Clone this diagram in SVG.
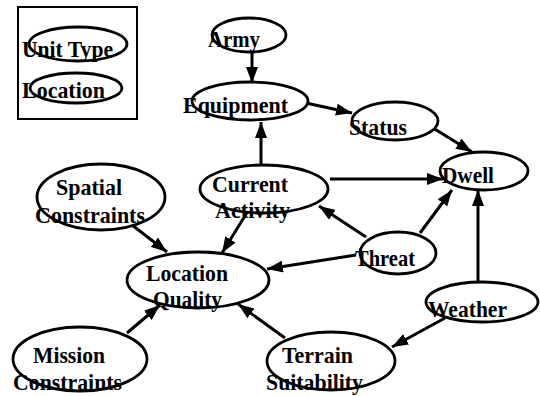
<svg xmlns="http://www.w3.org/2000/svg" width="540" height="396" viewBox="0 0 540 396">
<style>
.n{fill:#fff;stroke:#000;stroke-width:2.8}
.t{font-family:"Liberation Serif","Times New Roman",serif;font-weight:bold;font-size:24px;fill:#000}
.c{stroke:#000;stroke-width:3;fill:none;marker-end:url(#ah)}
</style>
<defs>
<marker id="ah" markerUnits="userSpaceOnUse" markerWidth="16" markerHeight="12" viewBox="0 0 16 12" refX="16" refY="6" orient="auto">
<path d="M0,0 L16,6 L0,12 z" fill="#000"/>
</marker>
</defs>
<rect width="540" height="396" fill="#fff"/>
<g id="legend">
<rect x="18" y="7" width="119" height="112" fill="#fff" stroke="#000" stroke-width="2"/>
<ellipse class="n" cx="78" cy="44" rx="49" ry="17"/>
<text class="t" x="22" y="57" textLength="91" lengthAdjust="spacingAndGlyphs">Unit Type</text>
<ellipse class="n" cx="76" cy="88" rx="46" ry="15"/>
<text class="t" x="22" y="98" textLength="83" lengthAdjust="spacingAndGlyphs">Location</text>
</g>
<g id="connectors">
<line class="c" x1="252" y1="52" x2="252" y2="83"/>
<line class="c" x1="306" y1="103" x2="352" y2="113"/>
<line class="c" x1="261" y1="165" x2="261" y2="122"/>
<line class="c" x1="433" y1="128" x2="472" y2="152"/>
<line class="c" x1="330" y1="179" x2="443" y2="179"/>
<line class="c" x1="366" y1="237" x2="319" y2="206"/>
<line class="c" x1="420" y1="233" x2="452" y2="190"/>
<line class="c" x1="478" y1="281" x2="478" y2="190"/>
<line class="c" x1="356" y1="255" x2="267" y2="269"/>
<line class="c" x1="445" y1="318" x2="392" y2="347"/>
<line class="c" x1="285" y1="338" x2="238" y2="304"/>
<line class="c" x1="132" y1="225" x2="167" y2="252"/>
<line class="c" x1="248" y1="211" x2="222" y2="253"/>
<line class="c" x1="127" y1="333" x2="160" y2="305"/>
</g>
<g id="army"><ellipse class="n" cx="249" cy="35" rx="37" ry="17"/><text class="t" x="208" y="47" textLength="52" lengthAdjust="spacingAndGlyphs">Army</text></g>
<g id="equipment"><ellipse class="n" cx="250" cy="101" rx="58" ry="19"/><text class="t" x="183" y="113" textLength="105" lengthAdjust="spacingAndGlyphs">Equipment</text></g>
<g id="status"><ellipse class="n" cx="395" cy="121" rx="43" ry="19"/><text class="t" x="349" y="135" textLength="58" lengthAdjust="spacingAndGlyphs">Status</text></g>
<g id="dwell"><ellipse class="n" cx="484" cy="171" rx="44" ry="19"/><text class="t" x="442" y="183" textLength="52" lengthAdjust="spacingAndGlyphs">Dwell</text></g>
<g id="current-activity"><ellipse class="n" cx="264" cy="189" rx="64" ry="24"/><text class="t" x="212" y="192" textLength="76" lengthAdjust="spacingAndGlyphs">Current</text><text class="t" x="215" y="218" textLength="75" lengthAdjust="spacingAndGlyphs">Activity</text></g>
<g id="threat"><ellipse class="n" cx="398" cy="253" rx="38" ry="21"/><text class="t" x="355" y="266" textLength="60" lengthAdjust="spacingAndGlyphs">Threat</text></g>
<g id="weather"><ellipse class="n" cx="482" cy="302" rx="56" ry="20"/><text class="t" x="428" y="317" textLength="79" lengthAdjust="spacingAndGlyphs">Weather</text></g>
<g id="spatial-constraints"><ellipse class="n" cx="101" cy="197" rx="64" ry="33"/><text class="t" x="56" y="195" textLength="66" lengthAdjust="spacingAndGlyphs">Spatial</text><text class="t" x="35" y="223" textLength="110" lengthAdjust="spacingAndGlyphs">Constraints</text></g>
<g id="location-quality"><ellipse class="n" cx="198" cy="280" rx="71" ry="28"/><text class="t" x="146" y="281" textLength="82" lengthAdjust="spacingAndGlyphs">Location</text><text class="t" x="153" y="307" textLength="69" lengthAdjust="spacingAndGlyphs">Quality</text></g>
<g id="terrain-suitability"><ellipse class="n" cx="331" cy="361" rx="64" ry="29"/><text class="t" x="282" y="363" textLength="71" lengthAdjust="spacingAndGlyphs">Terrain</text><text class="t" x="266" y="390" textLength="97" lengthAdjust="spacingAndGlyphs">Suitability</text></g>
<g id="mission-constraints"><ellipse class="n" cx="80" cy="359" rx="67" ry="32"/><text class="t" x="33" y="363" textLength="72" lengthAdjust="spacingAndGlyphs">Mission</text><text class="t" x="13" y="390" textLength="109" lengthAdjust="spacingAndGlyphs">Constraints</text></g>
</svg>
